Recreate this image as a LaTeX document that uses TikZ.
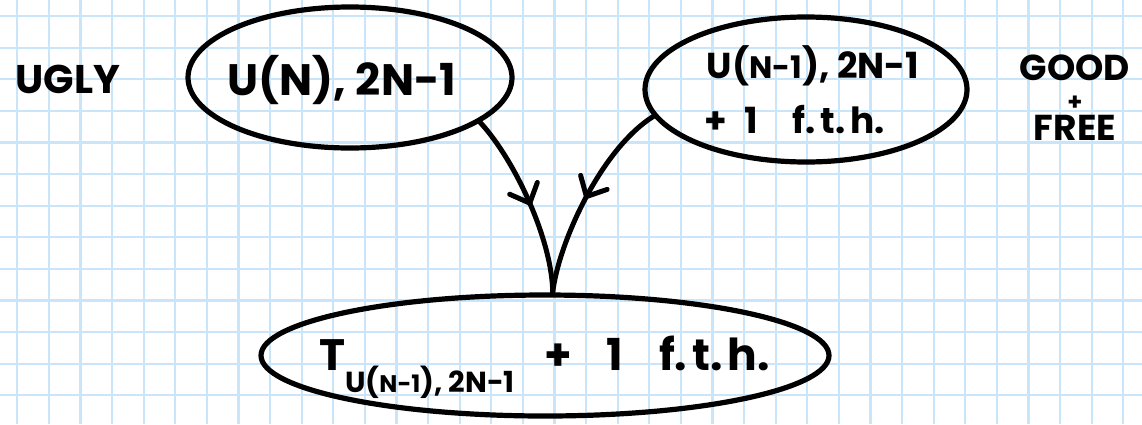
\documentclass[tikz,border=0pt]{standalone}
\usepackage{fontspec}
\setmainfont{Poppins}
\usetikzlibrary{shapes.geometric,arrows.meta,decorations.markings}
\definecolor{gridblue}{HTML}{C9E5FA}
\begin{document}
\begin{tikzpicture}[x=1pt,y=-1pt,
  gridline/.style={draw=gridblue,line width=2.2pt},
  bubble/.style={ellipse,draw=black,line width=5.2pt,inner sep=0pt},
  conn/.style={line width=5pt,line cap=round,postaction={decorate},
    decoration={markings,mark=at position 0.52 with {\arrow{Straight Barb[length=16pt,width=30pt,line width=5pt,round]}}}},
  txt/.style={inner sep=0pt,anchor=base}]
\useasboundingbox (0,0) rectangle (1142,424);
\fill[white] (0,0) rectangle (1142,424);
\foreach \i in {0,...,35} \draw[gridline] ({17.3+31.6*\i},0) -- ++(0,424);
\foreach \j in {0,...,12} \draw[gridline] (0,{16+31.6*\j}) -- ++(1142,0);

\node[bubble,minimum width=324pt,minimum height=141pt] (lu) at (350,77.5) {};
\node[bubble,minimum width=322pt,minimum height=145pt] (rr) at (806,89.5) {};
\node[bubble,minimum width=568pt,minimum height=121pt] (bot) at (545,355.5) {};

\draw[conn] (lu.-19) .. controls (515,160) and (552,240) .. (bot.83);
\draw[conn] (rr.190) .. controls (600,150) and (558,245) .. (bot.83);

\node[txt,font=\bfseries\fontsize{40}{40}\selectfont] (ugly) at (68,93) {UGLY};
\node[txt,font=\bfseries\fontsize{44}{44}\selectfont] (lt) at (342,95) {U(N), 2N-1};
\node[txt,font=\bfseries\fontsize{36}{36}\selectfont] (rt1) at (813,78) {U({\fontsize{31}{31}\selectfont N-1}), 2N-1};
\node[txt,anchor=base west,font=\bfseries\fontsize{36}{36}\selectfont] (rt2) at (704,133)
  {+\hspace{18pt}1\hspace{34pt}f.\hspace{5pt}t.\hspace{5pt}h.};
\node[txt,align=center,font=\bfseries\fontsize{36}{30}\selectfont] (gf) at (1075,140)
  {GOOD\\{\fontsize{24}{30}\selectfont +}\\FREE};
\node[txt,anchor=base west,font=\bfseries\fontsize{44}{44}\selectfont] (bt) at (319,370)
  {T\raisebox{-22pt}{\fontsize{29}{29}\selectfont U({\fontsize{24}{24}\selectfont N-1}), 2N-1}\hspace{30pt}+\hspace{34pt}1\hspace{36pt}f.\hspace{5pt}t.\hspace{5pt}h.};
\end{tikzpicture}
\end{document}
